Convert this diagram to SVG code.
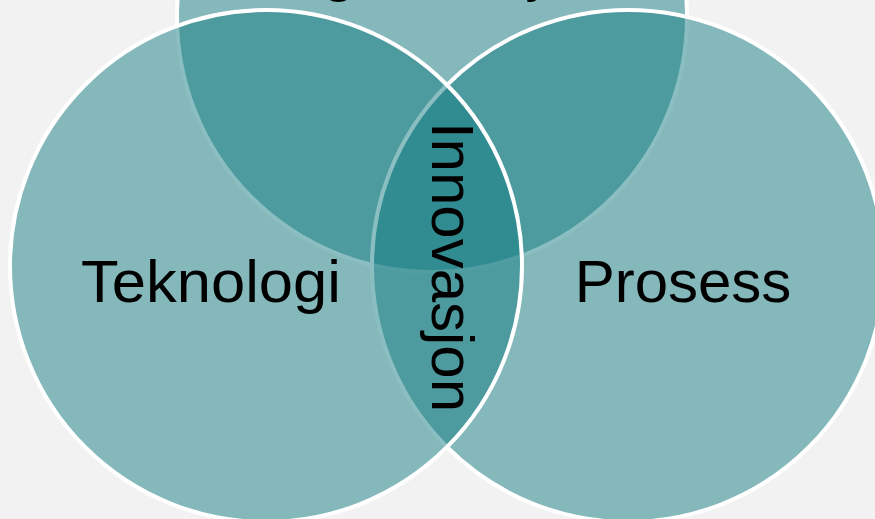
<svg xmlns="http://www.w3.org/2000/svg" width="875" height="519" viewBox="0 0 875 519">
<style>
.c{fill:#167e84;fill-opacity:0.5;stroke:#fff;stroke-width:4}
.t{font-family:"Liberation Sans",Arial,sans-serif;font-size:60px;fill:#000}
</style>
<rect width="875" height="519" fill="#f2f2f2"/>
<g id="organisasjon">
<circle class="c" cx="432" cy="17" r="255"/>
<text class="t" x="432" y="-10" text-anchor="middle">Organisasjon</text>
</g>
<g id="prosess">
<circle class="c" cx="628" cy="266" r="256"/>
</g>
<g id="teknologi">
<circle class="c" cx="266" cy="266" r="256"/>
</g>
<g id="labels">
<text class="t" x="81" y="302" textLength="260" lengthAdjust="spacingAndGlyphs">Teknologi</text>
<text class="t" x="683" y="302" text-anchor="middle">Prosess</text>
</g>
<g id="innovasjon">
<text class="t" transform="translate(432,267) rotate(90)" x="0" y="0" text-anchor="middle">Innovasjon</text>
</g>
<g id="connectors"/>
</svg>
